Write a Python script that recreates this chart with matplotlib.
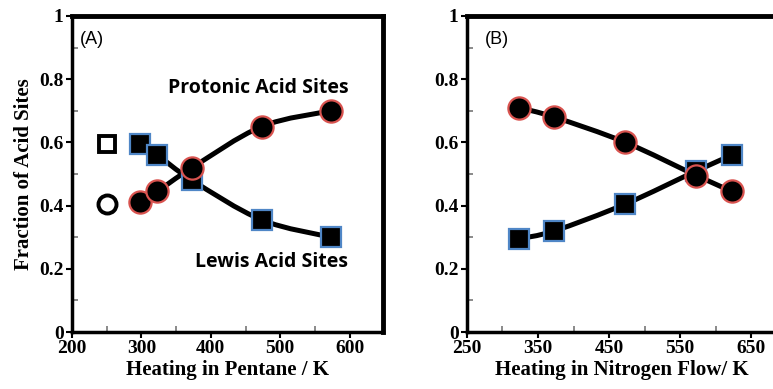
import numpy as np
import matplotlib
matplotlib.use('Agg')
import matplotlib.pyplot as plt
from matplotlib.ticker import MultipleLocator
from matplotlib.path import Path
from matplotlib.patches import PathPatch

plt.rcParams['font.family'] = 'Liberation Serif'
plt.rcParams['font.weight'] = 'bold'
plt.rcParams['axes.labelweight'] = 'bold'

# panel A: heating in pentane
tA = [298, 323, 373, 473, 573]
lewisA = [0.595, 0.56, 0.48, 0.355, 0.30]
protA = [0.41, 0.445, 0.52, 0.65, 0.70]
refA_x = 250
refA_lewis = 0.595
refA_prot = 0.405

# panel B: heating in nitrogen flow
tB = [323, 373, 473, 573, 623]
protB = [0.71, 0.68, 0.60, 0.495, 0.445]
lewisB = [0.295, 0.32, 0.405, 0.51, 0.56]

xticksA = [200, 300, 400, 500, 600]
xticksB = [250, 350, 450, 550, 650]
yticks = [0, 0.2, 0.4, 0.6, 0.8, 1]
ylabels = ['0', '0.2', '0.4', '0.6', '0.8', '1']

sq_edge = '#4f86c6'
ci_edge = '#d9534f'

fig = plt.figure(figsize=(7.73, 3.89), dpi=100)
axA = fig.add_axes([0.0931, 0.1465, 0.4024, 0.8124])
axB = fig.add_axes([0.604, 0.1465, 0.40, 0.8124])


def style(ax, xmin, xmax, xticks):
    ax.set_xlim(xmin, xmax)
    ax.set_ylim(0, 1)
    ax.set_xticks(xticks)
    ax.set_xticklabels([str(t) for t in xticks], fontweight='bold', fontsize=14)
    ax.set_yticks(yticks)
    ax.set_yticklabels(ylabels, fontweight='bold', fontsize=14)
    ax.xaxis.set_minor_locator(MultipleLocator(50))
    ax.yaxis.set_minor_locator(MultipleLocator(0.1))
    ax.tick_params(which='major', direction='out', length=4, width=1.5,
                   top=False, right=False, pad=2)
    ax.tick_params(which='minor', direction='in', length=4, width=1.2,
                   color='#777777', top=False, right=False)
    for s in ['left', 'bottom']:
        ax.spines[s].set_linewidth(2.5)
    for s in ['top', 'right']:
        ax.spines[s].set_linewidth(3.5)


def smooth(ax, x, y):
    # Catmull-Rom style bezier through the data points, in display space
    pts = ax.transData.transform(np.column_stack([x, y]))
    verts = [pts[0]]
    codes = [Path.MOVETO]
    n = len(pts)
    for i in range(n - 1):
        p0 = pts[max(i - 1, 0)]
        p1 = pts[i]
        p2 = pts[i + 1]
        p3 = pts[min(i + 2, n - 1)]
        c1 = p1 + (p2 - p0) / 6.0
        c2 = p2 - (p3 - p1) / 6.0
        verts += [c1, c2, p2]
        codes += [Path.CURVE4] * 3
    patch = PathPatch(Path(verts, codes), facecolor='none', edgecolor='black',
                      lw=3.6, capstyle='round', joinstyle='round',
                      transform=None, zorder=2)
    ax.add_artist(patch)


def series(ax, x, y, marker, edge, ms):
    smooth(ax, x, y)
    ax.plot(x, y, marker, ms=ms, mfc='black', mec=edge, mew=1.6,
            ls='none', zorder=3)


style(axA, 200, 648, xticksA)
style(axB, 250, 685, xticksB)

series(axA, tA, lewisA, 's', sq_edge, 14)
series(axA, tA, protA, 'o', ci_edge, 16)
axA.plot(refA_x, refA_lewis, 's', ms=12, mfc='white', mec='black', mew=2.8)
axA.plot(refA_x, refA_prot, 'o', ms=13, mfc='white', mec='black', mew=2.8)
axA.text(468, 0.772, 'Protonic Acid Sites', fontsize=14, fontweight='bold',
         family='Open Sans', ha='center', va='center')
axA.text(488, 0.222, 'Lewis Acid Sites', fontsize=14, fontweight='bold',
         family='Open Sans', ha='center', va='center')
axA.text(211, 0.925, '(A)', fontsize=13, family='Liberation Sans',
         fontweight='normal', ha='left', va='center')
axA.set_xlabel('Heating in Pentane / K', fontsize=15, fontweight='bold', labelpad=2)
axA.set_ylabel('Fraction of Acid Sites', fontsize=15, fontweight='bold', labelpad=4)

series(axB, tB, lewisB, 's', sq_edge, 14)
series(axB, tB, protB, 'o', ci_edge, 16)
axB.text(275, 0.925, '(B)', fontsize=13, family='Liberation Sans',
         fontweight='normal', ha='left', va='center')
axB.set_xlabel('Heating in Nitrogen Flow/ K', fontsize=15, fontweight='bold', labelpad=2)

fig.savefig('out.png', dpi=100)
